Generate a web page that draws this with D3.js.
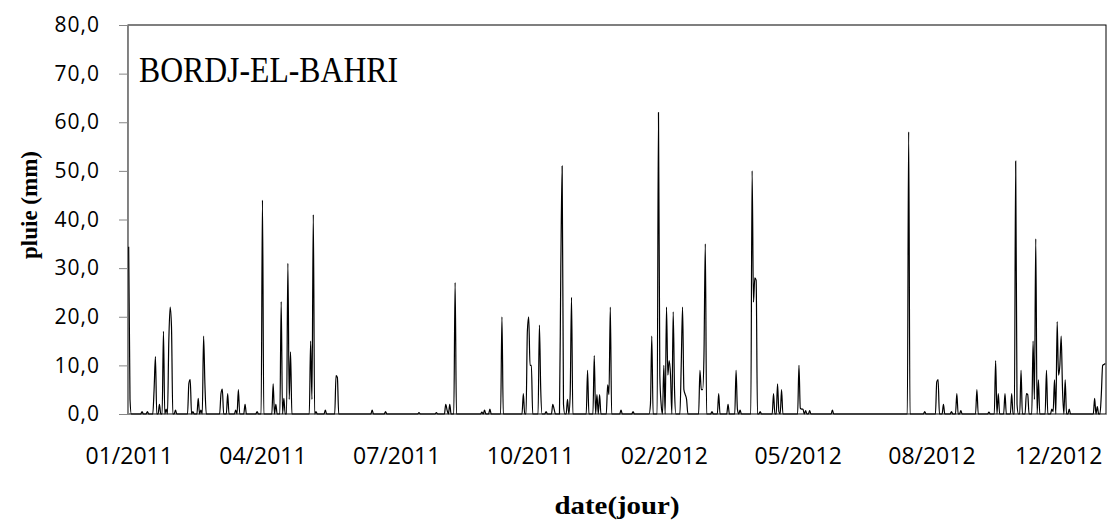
<!DOCTYPE html>
<html>
<head>
<meta charset="utf-8">
<script src="https://cdn.jsdelivr.net/npm/d3@7"></script>
<style>
  body { margin: 0; background: #fff; }
  svg { display: block; }
</style>
</head>
<body>
<div id="chart"></div>
<script>
// daily rainfall, Bordj-El-Bahri, 01/01/2011 -> 31/12/2012
// days not listed are dry (0 mm)
var nDays = 731;
var rainDays = [
  0, 1, 10, 14, 19, 20, 23, 26, 28, 30, 31, 32, 35, 45, 46, 48, 52, 54, 56, 57,
  69, 70, 74, 80, 82, 87, 96, 100, 108, 110, 114, 116, 119, 120, 121,
  136, 137, 138, 140, 147, 155, 156, 182, 192, 217, 230, 237, 238, 240, 244,
  264, 266, 270, 279, 295, 298, 299, 300, 301, 307, 308, 312, 317, 318,
  323, 324, 325, 328, 330, 331, 343, 348, 350, 352, 358, 359, 360,
  368, 377, 390, 391, 396, 397, 398, 400, 402, 403, 404, 405, 407, 408,
  413, 414, 415, 416, 417, 427, 428, 429, 430, 431, 436, 441, 448, 454, 455, 457,
  466, 467, 468, 469, 472, 482, 485, 486, 488, 501, 502, 503, 504, 506, 509, 526,
  583, 595, 604, 605, 609, 615, 619, 622, 634, 643, 648, 650, 655, 660,
  663, 664, 667, 671, 672, 676, 677, 678, 680, 686, 690, 691, 692, 694, 695,
  696, 697, 698, 700, 703, 722, 724, 727, 728, 729, 730
];
var rainMm = [
  34.4, 3, 0.5, 0.5, 5, 11.8, 2, 17, 1, 15, 22, 18, 0.8, 6.3, 7.1, 0.5, 3.2, 0.8, 16, 6,
  4.2, 5.1, 4.2, 0.8, 5, 2, 0.5, 44, 6.2, 2, 23.1, 3.2, 31, 3, 12.8,
  15, 3, 41, 0.5, 0.8, 7.9, 7.5, 0.8, 0.5, 0.3, 0.3, 2, 0.8, 2, 27,
  0.4, 0.8, 1, 20, 4.2, 17, 20, 10, 10, 18.3, 5, 0.5, 2, 1,
  30, 51, 2, 3, 4, 24, 9, 12, 4, 4, 6, 4, 22,
  0.8, 0.5, 2, 16, 62, 8, 2, 10, 22, 8, 11, 8, 21, 5,
  10, 22, 5, 4, 3, 9, 5, 5, 12, 35, 0.5, 4.2, 2, 9, 1, 0.8,
  50, 23, 28, 27.5, 0.5, 4.2, 6.2, 0.5, 5, 10, 1.2, 1, 1, 0.7, 0.7, 0.8,
  58, 0.5, 6.6, 7.1, 2, 0.5, 4.2, 0.7, 5, 0.4, 11, 4.2, 4.2, 4.2,
  52, 2, 9, 4.2, 4, 15, 3, 36, 7, 9, 1, 0.5, 7, 19, 8,
  10, 16, 5, 7, 1, 3.2, 1.5, 4, 10, 10.2, 10.4
];
var yTicks = [0, 10, 20, 30, 40, 50, 60, 70, 80];
var xTickDays = [0, 100, 200, 300, 400, 500, 600, 700];
var xTickLabels = ['01/2011', '04/2011', '07/2011', '10/2011', '02/2012', '05/2012', '08/2012', '12/2012'];

var width = 1108, height = 521;
var plotLeft = 128, plotRight = 1106, plotTop = 25, plotBottom = 414;

// full daily series
var series = d3.range(nDays).map(function(d) { return 0; });
rainDays.forEach(function(d, i) { series[d] = rainMm[i]; });

var svg = d3.select('#chart').append('svg')
  .attr('width', width).attr('height', height);

var x = d3.scalePoint().domain(d3.range(nDays)).range([plotLeft, plotRight]).padding(0.5);
var y = d3.scaleLinear().domain([0, 80]).range([plotBottom, plotTop]);

// plot area border
svg.append('rect')
  .attr('x', plotLeft).attr('y', plotTop)
  .attr('width', plotRight - plotLeft).attr('height', plotBottom - plotTop)
  .attr('fill', 'none').attr('stroke', '#000').attr('stroke-width', 1);

var fmt = function(v) { return d3.format('.1f')(v).replace('.', ','); };

var yAxis = svg.append('g')
  .attr('transform', 'translate(' + plotLeft + ',0)')
  .call(d3.axisLeft(y).tickValues(yTicks).tickSize(9).tickPadding(19).tickFormat(fmt));
yAxis.select('.domain').attr('stroke', '#868686');
yAxis.selectAll('.tick line').attr('stroke', '#868686');
yAxis.selectAll('text')
  .attr('fill', '#000')
  .style('font-family', '"Open Sans", sans-serif')
  .style('font-size', '21px')
  .style('letter-spacing', '1px');

var xAxis = svg.append('g')
  .attr('transform', 'translate(0,' + plotBottom + ')')
  .call(d3.axisBottom(x).tickValues(xTickDays).tickSize(0).tickPadding(34)
    .tickFormat(function(d, i) { return xTickLabels[i]; }));
xAxis.select('.domain').attr('stroke', '#868686');
xAxis.selectAll('text')
  .attr('fill', '#000')
  .style('font-family', '"Open Sans", sans-serif')
  .style('font-size', '23px');
// last label sits against the right edge, as in excel
xAxis.selectAll('.tick:last-of-type text').attr('dx', -7);

// rainfall line
var line = d3.line()
  .x(function(d, i) { return x(i); })
  .y(function(d) { return y(d); })
  .curve(d3.curveMonotoneX);

svg.append('path')
  .datum(series)
  .attr('d', line)
  .attr('fill', 'none')
  .attr('stroke', '#000')
  .attr('stroke-width', 1.2);

// station name
svg.append('text')
  .attr('x', 139).attr('y', 82)
  .attr('textLength', 259).attr('lengthAdjust', 'spacingAndGlyphs')
  .style('font-family', '"Liberation Serif", serif')
  .style('font-size', '35px')
  .text('BORDJ-EL-BAHRI');

// axis titles
svg.append('text')
  .attr('transform', 'translate(37,205) rotate(-90)')
  .attr('text-anchor', 'middle')
  .style('font-family', '"Liberation Serif", serif')
  .style('font-weight', 'bold')
  .style('font-size', '23px')
  .text('pluie (mm)');

svg.append('text')
  .attr('x', 617).attr('y', 514)
  .attr('text-anchor', 'middle')
  .attr('textLength', 125).attr('lengthAdjust', 'spacingAndGlyphs')
  .style('font-family', '"Liberation Serif", serif')
  .style('font-weight', 'bold')
  .style('font-size', '25px')
  .text('date(jour)');
</script>
</body>
</html>
